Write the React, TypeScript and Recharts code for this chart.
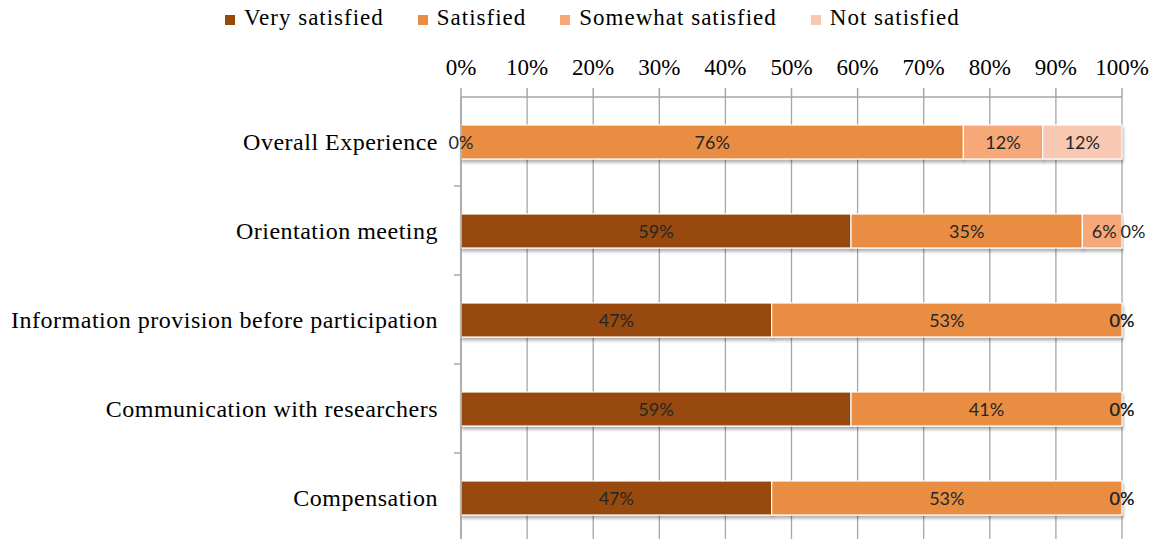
import React from "react";
import { BarChart, Bar, XAxis, YAxis, CartesianGrid, LabelList } from "recharts";

const categories = [
  "Overall Experience",
  "Orientation meeting",
  "Information provision before participation",
  "Communication with researchers",
  "Compensation",
];
const verySatisfied = [0, 59, 47, 59, 47];
const satisfied = [76, 35, 53, 41, 53];
const somewhatSatisfied = [12, 6, 0, 0, 0];
const notSatisfied = [12, 0, 0, 0, 0];
const xTicks = [0, 10, 20, 30, 40, 50, 60, 70, 80, 90, 100];

const seriesDefs = [
  { key: "very", name: "Very satisfied", color: "#984807" },
  { key: "sat", name: "Satisfied", color: "#E88D43" },
  { key: "some", name: "Somewhat satisfied", color: "#F6A878" },
  { key: "not", name: "Not satisfied", color: "#F9C8B2" },
];

const data = categories.map((name, i) => ({
  name,
  very: verySatisfied[i],
  sat: satisfied[i],
  some: somewhatSatisfied[i],
  not: notSatisfied[i],
}));

const W = 1155;
const H = 542;
const MARGIN = { top: 0, right: 33, bottom: 0, left: 0 };
const X_AXIS_H = 97;
const BAND = (H - MARGIN.top - MARGIN.bottom - X_AXIS_H) / categories.length;
const GRID = "#A6A6A6";
const SERIF = "'Liberation Serif', 'Times New Roman', serif";
const LABEL_FONT = "Lato, 'Open Sans', sans-serif";

const CatTick = (props: any) => {
  const { x, y, payload, index } = props;
  const half = BAND / 2;
  return (
    <g>
      <text
        x={x - 23}
        y={y}
        dy={8}
        textAnchor="end"
        fontFamily={SERIF}
        fontSize={24}
        letterSpacing={0.5}
        fill="#000"
      >
        {payload.value}
      </text>
      {index < categories.length - 1 && (
        <line x1={x - 7} x2={x} y1={y + half} y2={y + half} stroke={GRID} strokeWidth={1.5} />
      )}
    </g>
  );
};

const BarShape = (props: any) => {
  const { x, y, width, height, fill } = props;
  if (!width || width <= 0) return null;
  return (
    <rect
      x={x}
      y={y}
      width={width}
      height={height}
      fill={fill}
      stroke="#ffffff"
      strokeWidth={1.2}
      filter="url(#barShadow)"
    />
  );
};

const makeLabel = (key: string) => (props: any) => {
  const vb = props.viewBox && props.viewBox.x !== undefined ? props.viewBox : props;
  const { x, y, width, height } = vb;
  const { value, index } = props;
  let cx = x + width / 2;
  if (key === "not" && value === 0 && somewhatSatisfied[index] > 0) cx += 11;
  if (key === "some" && value > 0 && value < 8 && notSatisfied[index] === 0) cx += 2;
  return (
    <text
      x={cx}
      y={y + height / 2}
      textAnchor="middle"
      dominantBaseline="central"
      fontFamily={LABEL_FONT}
      fontSize={18}
      fill="#262626"
    >
      {`${value}%`}
    </text>
  );
};

const LegendBox = () => (
  <div
    style={{
      position: "absolute",
      left: 225,
      top: 5,
      display: "flex",
      alignItems: "center",
      fontFamily: SERIF,
      fontSize: 23,
      letterSpacing: 1,
      color: "#000",
      lineHeight: "26px",
      whiteSpace: "nowrap",
    }}
  >
    {seriesDefs.map((s, i) => (
      <div key={s.key} style={{ display: "flex", alignItems: "center", marginRight: i < 3 ? 34 : 0 }}>
        <span
          style={{
            display: "inline-block",
            width: 10,
            height: 10,
            background: s.color,
            marginRight: 9,
            marginTop: 3,
          }}
        />
        <span>{s.name}</span>
      </div>
    ))}
  </div>
);

export default function App() {
  return (
    <div
      style={{
        position: "fixed",
        left: 0,
        top: 0,
        width: W,
        height: 539,
        overflow: "hidden",
        background: "#fff",
      }}
    >
      <LegendBox />
      <BarChart width={W} height={H} data={data} layout="vertical" margin={MARGIN} barSize={34}>
        <defs>
          <filter id="barShadow" x="-5%" y="-30%" width="110%" height="180%">
            <feDropShadow dx="1" dy="3" stdDeviation="1.6" floodColor="#000" floodOpacity="0.3" />
          </filter>
        </defs>
        <CartesianGrid horizontal={false} vertical={true} stroke={GRID} strokeWidth={1.3} />
        <XAxis
          type="number"
          orientation="top"
          domain={[0, 100]}
          ticks={xTicks}
          interval={0}
          height={X_AXIS_H}
          tickFormatter={(v: number) => `${v}%`}
          tickSize={9}
          tickMargin={13}
          axisLine={{ stroke: GRID, strokeWidth: 1.5 }}
          tickLine={{ stroke: GRID, strokeWidth: 1.5 }}
          tick={{ fontFamily: SERIF, fontSize: 23, fill: "#000" }}
        />
        <YAxis
          type="category"
          dataKey="name"
          width={461}
          interval={0}
          tickSize={0}
          tickMargin={0}
          tickLine={false}
          axisLine={{ stroke: GRID, strokeWidth: 1.5 }}
          tick={<CatTick />}
        />
        {seriesDefs.map((s) => (
          <Bar
            key={s.key}
            dataKey={s.key}
            name={s.name}
            stackId="a"
            fill={s.color}
            isAnimationActive={false}
            shape={<BarShape />}
          >
            <LabelList dataKey={s.key} content={makeLabel(s.key)} />
          </Bar>
        ))}
      </BarChart>
    </div>
  );
}
